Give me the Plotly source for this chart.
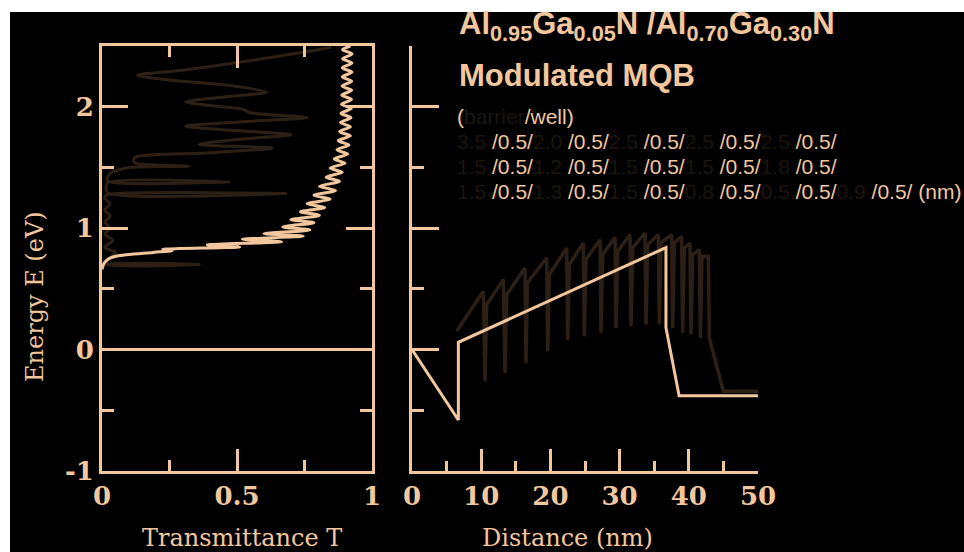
import plotly.graph_objects as go

W, H = 964, 552
PEACH = "#f2c79d"
DIM = "#2c2016"
DIM_TEXT = "#1c150e"

# ---- transmittance spectrum (current structure) : energy (eV) vs T ----
t_energy = [0.66, 0.70, 0.74, 0.77, 0.80, 0.815, 0.825, 0.845, 0.862, 0.888,
            0.908, 0.935, 0.955, 0.985, 1.010, 1.045, 1.070, 1.105, 1.135, 1.170,
            1.200, 1.240, 1.270, 1.310, 1.345, 1.385, 1.420, 1.460, 1.495, 1.535,
            1.570, 1.610, 1.645, 1.685, 1.720, 1.760, 1.795, 1.835, 1.870, 1.910,
            1.945, 1.985, 2.020, 2.060, 2.095, 2.135, 2.170, 2.210, 2.245, 2.285,
            2.320, 2.360, 2.395, 2.435, 2.470, 2.500]
t_trans = [0.000, 0.005, 0.020, 0.055, 0.190, 0.260, 0.225, 0.510, 0.390, 0.665,
           0.520, 0.745, 0.600, 0.770, 0.670, 0.785, 0.700, 0.805, 0.735, 0.825,
           0.760, 0.845, 0.785, 0.865, 0.805, 0.880, 0.830, 0.890, 0.845, 0.900,
           0.860, 0.910, 0.870, 0.915, 0.875, 0.920, 0.880, 0.920, 0.883, 0.922,
           0.885, 0.923, 0.887, 0.924, 0.888, 0.925, 0.889, 0.925, 0.890, 0.926,
           0.890, 0.926, 0.891, 0.926, 0.891, 0.920]

# ---- transmittance spectrum (previous structure, faded) ----
prev_energy = [0.66, 0.695, 0.700, 0.705, 0.76, 0.80, 0.84, 0.90, 0.95, 1.00,
               1.05, 1.10, 1.15, 1.20, 1.25, 1.275, 1.285, 1.295, 1.37, 1.38,
               1.39, 1.45, 1.50, 1.51, 1.54, 1.58, 1.62, 1.66, 1.69, 1.73,
               1.77, 1.81, 1.84, 1.88, 1.91, 1.95, 1.98, 2.01, 2.04, 2.08,
               2.12, 2.18, 2.22, 2.26, 2.30, 2.38, 2.45, 2.49]
prev_trans = [0.00, 0.01, 0.36, 0.01, 0.03, 0.05, 0.01, 0.04, 0.01, 0.03,
              0.01, 0.03, 0.01, 0.03, 0.01, 0.02, 0.68, 0.02, 0.02, 0.47,
              0.02, 0.03, 0.10, 0.32, 0.12, 0.12, 0.40, 0.63, 0.36, 0.50,
              0.70, 0.45, 0.31, 0.55, 0.76, 0.55, 0.52, 0.40, 0.31, 0.45,
              0.61, 0.45, 0.25, 0.13, 0.30, 0.55, 0.75, 0.85]

# ---- conduction band profile (current structure) ----
prof_x = [0, 6.7, 6.7, 36.7, 36.7, 38.6, 50]
prof_e = [0, -0.58, 0.06, 0.84, 0.18, -0.38, -0.38]

# ---- conduction band profile (previous structure, faded) ----
prev_prof_x = [6.46, 10.31, 10.55, 10.79, 13.20, 13.44, 13.68, 16.33, 16.47, 16.67,
               19.46, 19.61, 19.85, 22.35, 22.50, 22.74, 24.76, 24.90, 25.14, 27.17,
               27.31, 27.55, 29.34, 29.48, 29.72, 31.50, 31.65, 31.89, 33.67, 33.82,
               34.06, 35.60, 35.74, 35.98, 37.52, 37.67, 37.91, 38.97, 39.11, 39.35,
               40.17, 40.32, 40.56, 41.52, 41.67, 41.91, 42.82, 42.97, 44.99, 50.0]
prev_prof_e = [0.151, 0.480, -0.261, 0.370, 0.576, -0.192, 0.453, 0.672, -0.110, 0.549,
               0.754, -0.014, 0.617, 0.837, 0.082, 0.700, 0.878, 0.110, 0.741, 0.905,
               0.137, 0.782, 0.925, 0.178, 0.809, 0.947, 0.192, 0.837, 0.960, 0.206,
               0.864, 0.947, 0.206, 0.878, 0.947, 0.178, 0.878, 0.933, 0.137, 0.837,
               0.878, 0.123, 0.782, 0.823, 0.096, 0.768, 0.768, 0.096, -0.343, -0.343]

e_ticks = [-1, 0, 1, 2]
e_minor = [-0.5, 0.5, 1.5, 2.5]
t_ticks = [0, 0.5, 1]
t_ticktext = ["0", "0.5", "1"]
t_minor = [0.25, 0.75]
d_ticks = [0, 10, 20, 30, 40, 50]
d_minor = [5, 15, 25, 35, 45]

# layer widths of the structure, listed as barrier / well (nm)
row1 = ["3.5", "2.0", "2.5", "2.5", "2.5"]
row2 = ["1.5", "1.2", "1.5", "1.5", "1.8"]
row3 = ["1.5", "1.3", "1.5", "0.8", "0.5", "0.9"]
well = "0.5"

fig = go.Figure()

# left panel: transmittance
fig.add_trace(go.Scatter(x=prev_trans, y=prev_energy, mode="lines",
                         line=dict(color=DIM, width=3, shape="spline", smoothing=0.8),
                         xaxis="x", yaxis="y", hoverinfo="skip"))
fig.add_trace(go.Scatter(x=[0, 1], y=[0, 0], mode="lines",
                         line=dict(color=PEACH, width=3),
                         xaxis="x", yaxis="y", hoverinfo="skip"))
fig.add_trace(go.Scatter(x=t_trans, y=t_energy, mode="lines",
                         line=dict(color=PEACH, width=3, shape="spline", smoothing=0.8),
                         xaxis="x", yaxis="y", hoverinfo="skip"))

# right panel: band profile
fig.add_trace(go.Scatter(x=prev_prof_x, y=prev_prof_e, mode="lines",
                         line=dict(color=DIM, width=3.5),
                         xaxis="x2", yaxis="y2", hoverinfo="skip"))
fig.add_trace(go.Scatter(x=prof_x, y=prof_e, mode="lines",
                         line=dict(color=PEACH, width=3),
                         xaxis="x2", yaxis="y2", hoverinfo="skip"))

tick_font = dict(family="DejaVu Serif", size=26, color=PEACH, weight="bold")
ydom = [1 - 471 / H, 1 - 46 / H]

common = dict(showgrid=False, zeroline=False, showline=True, linecolor=PEACH,
              linewidth=3, ticks="inside", tickcolor=PEACH, tickwidth=3,
              tickfont=tick_font, automargin=False, fixedrange=True)

fig.update_layout(
    width=W, height=H,
    margin=dict(l=0, r=0, t=0, b=0),
    paper_bgcolor="white",
    plot_bgcolor="black",
    showlegend=False,
    xaxis=dict(domain=[102 / W, 372 / W], range=[0, 1], anchor="y",
               tickmode="array", tickvals=t_ticks, ticktext=t_ticktext,
               ticklen=22, mirror="ticks",
               minor=dict(tickvals=t_minor, ticklen=11, tickwidth=3,
                          tickcolor=PEACH, ticks="inside"),
               **common),
    yaxis=dict(domain=ydom, range=[-1, 2.5], anchor="x",
               tickmode="array", tickvals=e_ticks, ticktext=["-1", "0", "1", "2"],
               ticklen=26, mirror="ticks",
               minor=dict(tickvals=e_minor, ticklen=12, tickwidth=3,
                          tickcolor=PEACH, ticks="inside"),
               **common),
    xaxis2=dict(domain=[412 / W, 758 / W], range=[0, 50], anchor="y2",
                tickmode="array", tickvals=d_ticks,
                ticklen=22,
                minor=dict(tickvals=d_minor, ticklen=10, tickwidth=3,
                           tickcolor=PEACH, ticks="inside"),
                **common),
    yaxis2=dict(domain=ydom, range=[-1, 2.5], anchor="x2",
                tickmode="array", tickvals=e_ticks, showticklabels=False,
                ticklen=27,
                minor=dict(tickvals=e_minor, ticklen=12, tickwidth=3,
                           tickcolor=PEACH, ticks="inside"),
                **common),
)

# dark backdrop
fig.add_shape(type="rect", xref="paper", yref="paper",
              x0=10 / W, x1=1, y0=0, y1=1 - 12 / H,
              fillcolor="black", line=dict(width=0), layer="below")

serif = dict(family="DejaVu Serif", size=24, color=PEACH)
sans_b = dict(family="Liberation Sans", size=31, color=PEACH, weight="bold")
sans = dict(family="Liberation Sans", size=21, color=PEACH)


def ann(text, x, y, font, xanchor="center", yanchor="middle", angle=0):
    fig.add_annotation(text=text, x=x / W, y=1 - y / H, xref="paper", yref="paper",
                       showarrow=False, font=font, xanchor=xanchor,
                       yanchor=yanchor, textangle=angle)


ann("Transmittance T", 242, 538, serif)
ann("Distance (nm)", 567, 538, serif)
ann("Energy E (eV)", 35, 297, serif, angle=-90)

ann("Al<sub>0.95</sub>Ga<sub>0.05</sub>N /Al<sub>0.70</sub>Ga<sub>0.30</sub>N",
    457, 26, sans_b, xanchor="left")
ann("Modulated MQB", 457, 76, sans_b, xanchor="left")


def dim(s):
    return f"<span style='color:{DIM_TEXT}'>{s}</span>"


def layer_row(values):
    return "".join(dim(v + " ") + "/" + well + "/" for v in values)


ann("(" + dim("barrier") + "/well)", 455, 117, sans, xanchor="left")
ann(layer_row(row1), 455, 141, sans, xanchor="left")
ann(layer_row(row2), 455, 166, sans, xanchor="left")
ann(layer_row(row3) + " (nm)", 455, 191, sans, xanchor="left")

fig.write_html("out.html")
